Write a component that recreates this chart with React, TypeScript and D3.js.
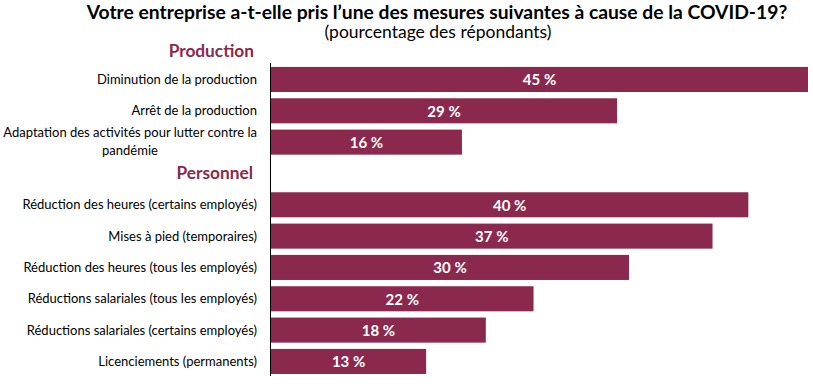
import * as d3 from "d3";

// données
const groupes = ["Production", "Personnel"];
const mesuresProduction = [
  "Diminution de la production",
  "Arrêt de la production",
  "Adaptation des activités pour lutter contre la|pandémie",
];
const valeursProduction = [45, 29, 16];
const mesuresPersonnel = [
  "Réduction des heures (certains employés)",
  "Mises à pied (temporaires)",
  "Réduction des heures (tous les employés)",
  "Réductions salariales (tous les employés)",
  "Réductions salariales (certains employés)",
  "Licenciements (permanents)",
];
const valeursPersonnel = [40, 37, 30, 22, 18, 13];

const W = 813;
const H = 386;
const COLOR = "#8a294d";
const FONT = "Lato, 'Open Sans', sans-serif";

type Row = { key: string; label: string; value: number | null; header?: string };

const rows: Row[] = [
  ...mesuresProduction.map((m, i) => ({ key: "p" + i, label: m, value: valeursProduction[i] })),
  { key: "gap", label: "", value: null, header: groupes[1] },
  ...mesuresPersonnel.map((m, i) => ({ key: "s" + i, label: m, value: valeursPersonnel[i] })),
];

export default function App() {
  const x0 = 271;
  const x = d3.scaleLinear().domain([0, 45]).range([x0, 808]);
  const y = d3
    .scaleBand<string>()
    .domain(rows.map((r) => r.key))
    .range([63.8, 377.1])
    .paddingInner(0.2)
    .paddingOuter(0.1);
  const bw = y.bandwidth();

  return (
    <svg
      width={W}
      height={H}
      style={{ position: "absolute", left: 0, top: 0, fontFamily: FONT }}
    >
      <text x={437} y={18.5} textAnchor="middle" fontSize={19.3} fontWeight="bold" fill="#000">
        Votre entreprise a-t-elle pris l’une des mesures suivantes à cause de la COVID-19?
      </text>
      <text x={438} y={38} textAnchor="middle" fontSize={17.5} fill="#000">
        (pourcentage des répondants)
      </text>

      <text
        x={254}
        y={(y(rows[0].key) as number) - 10}
        textAnchor="end"
        fontSize={17.3}
        fontWeight="bold"
        fill={COLOR}
      >
        {groupes[0]}
      </text>

      {rows.map((r) => {
        const yy = y(r.key) as number;
        const cy = yy + bw / 2;
        if (r.value === null) {
          return (
            <text
              key={r.key}
              x={253}
              y={cy + 6}
              textAnchor="end"
              fontSize={17.3}
              fontWeight="bold"
              fill={COLOR}
            >
              {r.header}
            </text>
          );
        }
        const lines = r.label.split("|");
        return (
          <g key={r.key}>
            <rect x={x(0)} y={yy} width={x(r.value) - x(0)} height={bw} fill={COLOR} />
            <text
              x={(x(0) + x(r.value)) / 2}
              y={cy + 6}
              textAnchor="middle"
              fontSize={15}
              fontWeight="bold"
              fill="#fff"
            >
              {r.value} %
            </text>
            {lines.length === 1 ? (
              <text x={257} y={cy + 4.5} textAnchor="end" fontSize={13} fill="#000">
                {lines[0]}
              </text>
            ) : (
              <text fontSize={13} fill="#000">
                <tspan x={257} y={cy - 5} textAnchor="end">
                  {lines[0]}
                </tspan>
                <tspan x={130} y={cy + 13} textAnchor="middle">
                  {lines[1]}
                </tspan>
              </text>
            )}
          </g>
        );
      })}

      <line x1={270.5} x2={270.5} y1={63} y2={376} stroke="#000" strokeWidth={1} />
    </svg>
  );
}
